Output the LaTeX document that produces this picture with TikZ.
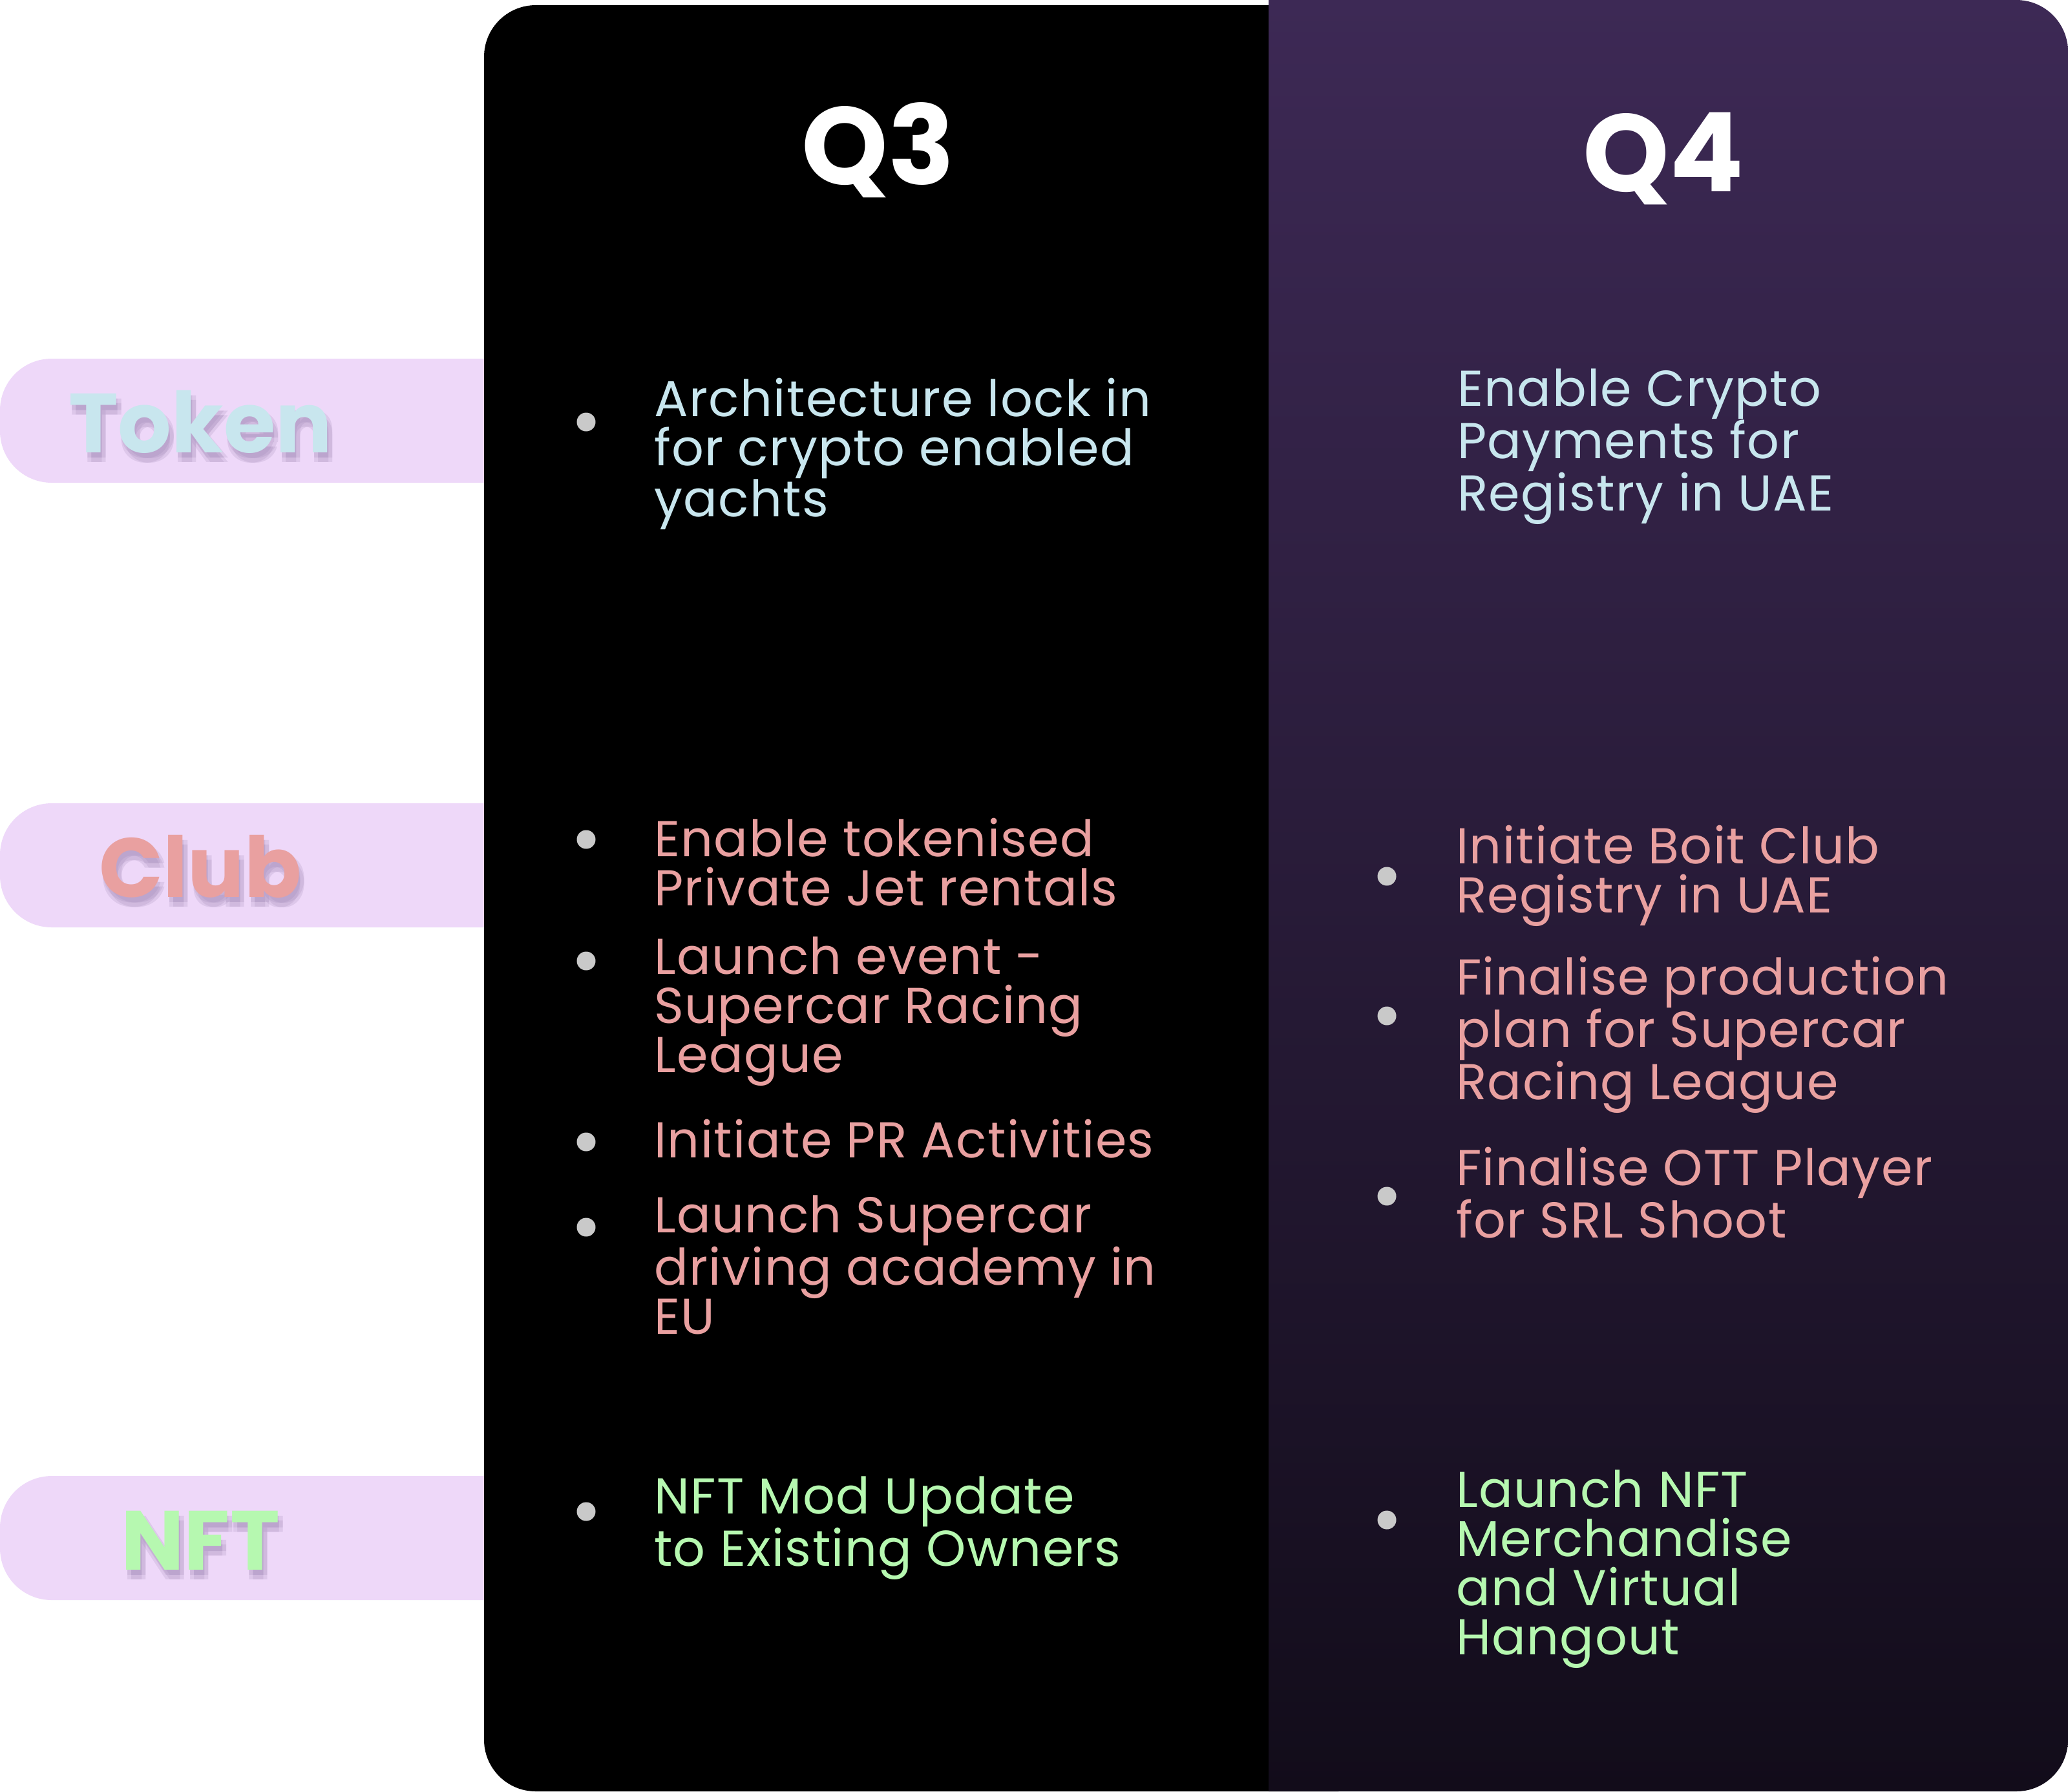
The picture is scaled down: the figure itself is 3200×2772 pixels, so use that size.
\documentclass[tikz,border=0pt]{standalone}
\usepackage{fontspec}
\newfontfamily\pop{Poppins}[LetterSpace=1.8]
\newfontfamily\popt{Poppins}
\definecolor{pill}{HTML}{EED8F9}
\definecolor{tokblue}{HTML}{C8E6EE}
\definecolor{clubpink}{HTML}{E9A0A0}
\definecolor{nftgreen}{HTML}{B6F8B0}
\definecolor{bulgrey}{HTML}{C9C9C9}
\definecolor{purtop}{HTML}{3D2955}
\definecolor{purmid}{HTML}{281B38}
\definecolor{purbot}{HTML}{120C1A}
\definecolor{shad}{HTML}{9C84B2}
\begin{document}
\begin{tikzpicture}[x=1pt,y=-1pt,
  item/.style={anchor=base west, align=left, inner sep=0pt, font=\pop\fontsize{78}{76}\selectfont},
  bul/.style={circle, fill=bulgrey, minimum size=29pt, inner sep=0pt},
  lbl/.style={anchor=base, inner sep=0pt, font=\popt\bfseries\fontsize{130}{130}\selectfont},
  qtitle/.style={anchor=base, inner sep=0pt, text=white, font=\popt\bfseries\fontsize{170}{170}\selectfont},
  pillbox/.style={fill=pill, rounded corners=80pt}]
\useasboundingbox (0,0) rectangle (3200,2772);
\fill[white] (0,0) rectangle (3200,2772);
% pills
\fill[pillbox] (0,555) rectangle (900,747);
\fill[pillbox] (0,1243) rectangle (900,1435);
\fill[pillbox] (0,2284) rectangle (900,2476);
% black panel
\fill[black, rounded corners=80pt] (749,8) rectangle (2150,2772);
% purple panel
\begin{scope}
  \clip (1963,0) rectangle (3200,2772);
  \shade[top color=purtop, bottom color=purbot, middle color=purmid, rounded corners=80pt] (1800,0) rectangle (3200,2772);
\end{scope}
% label shadows (soft)
\foreach \dx/\dy in {2/8,8/8,2/15,8/15}{
  \node[lbl, text=shad, opacity=0.2] at (310+\dx,700+\dy) {Token};
  \node[lbl, text=shad, opacity=0.2] at (310+\dx,1388+\dy) {Club};
  \node[lbl, text=shad, opacity=0.2] at (310+\dx,2429+\dy) {NFT};
}
\node[lbl, text=tokblue] (ltoken) at (310,700) {Token};
\node[lbl, text=clubpink] (lclub) at (310,1388) {Club};
\node[lbl, text=nftgreen] (lnft) at (310,2429) {NFT};
% titles
\node[qtitle] (q3) at (1359,285) {Q3};
\node[qtitle] (q4) at (2574,296) {Q4};
% Token row
\node[bul] (b1) at (907,653) {};
\node[item, text=tokblue] (t1) at (1012,799) {Architecture lock in\\for crypto enabled\\yachts};
\node[item, text=tokblue] (t2) at (2255,790) {Enable Crypto\\Payments for\\Registry in UAE};
% Club row Q3
\node[bul] (b2) at (907,1299) {};
\node[item, text=clubpink] (c1) at (1012,1401) {Enable tokenised\\Private Jet rentals};
\node[bul] (b3) at (907,1487) {};
\node[item, text=clubpink] (c2) at (1012,1659) {Launch event -\\Supercar Racing\\League};
\node[bul] (b4) at (907,1767) {};
\node[item, text=clubpink] (c3) at (1012,1791) {Initiate PR Activities};
\node[bul] (b5) at (907,1899) {};
\node[item, text=clubpink] (c4) at (1012,2064) {Launch Supercar\\driving academy in\\EU};
% Club row Q4
\node[bul] (b6) at (2146,1356) {};
\node[item, text=clubpink] (c5) at (2253,1412) {Initiate Boit Club\\Registry in UAE};
\node[bul] (b7) at (2146,1572) {};
\node[item, text=clubpink] (c6) at (2253,1701) {Finalise production\\plan for Supercar\\Racing League};
\node[bul] (b8) at (2146,1851) {};
\node[item, text=clubpink] (c7) at (2253,1915) {Finalise OTT Player\\for SRL Shoot};
% NFT row
\node[bul] (b9) at (907,2339) {};
\node[item, text=nftgreen] (n1) at (1012,2423) {NFT Mod Update\\to Existing Owners};
\node[bul] (b10) at (2146,2352) {};
\node[item, text=nftgreen] (n2) at (2253,2560) {Launch NFT\\Merchandise\\and Virtual\\Hangout};
\end{tikzpicture}
\end{document}
